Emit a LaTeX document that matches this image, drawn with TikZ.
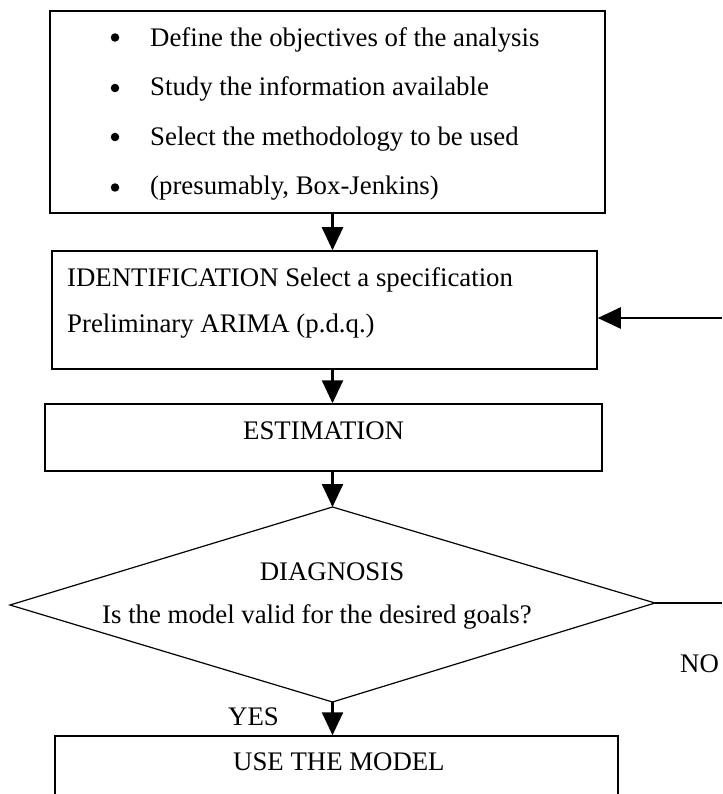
\documentclass[tikz,border=0pt]{standalone}
\usepackage{fontspec}
\setmainfont{Liberation Serif}
\usetikzlibrary{arrows.meta}
\begin{document}
\begin{tikzpicture}[x=1pt,y=-1pt,
  box/.style={draw, line width=1.5pt, rectangle, inner sep=0pt},
  arr/.style={line width=2.5pt, -{Triangle[length=23pt,width=21pt]}},
  lbl/.style={inner sep=0pt, font=\fontsize{26.8}{30}\selectfont},
  dot/.style={circle, fill, inner sep=0pt, minimum size=8.5pt},
]
\clip (0,0) rectangle (722,794);
\fill[white] (0,0) rectangle (722,794);
% top box
\node[box, minimum width=555pt, minimum height=202pt] (top) at (327.5,112) {};
\node[dot] (b1) at (115,37.5) {};
\node[dot] (b2) at (115,88) {};
\node[dot] (b3) at (115,137) {};
\node[dot] (b4) at (115,187.5) {};
\node[lbl, anchor=base west] (t1) at (150,47) {Define the objectives of the analysis};
\node[lbl, anchor=base west] (t2) at (150,96) {Study the information available};
\node[lbl, anchor=base west] (t3) at (150,146) {Select the methodology to be used};
\node[lbl, anchor=base west] (t4) at (150,195) {(presumably, Box-Jenkins)};
% identification box
\node[box, minimum width=545pt, minimum height=118pt] (id) at (324.5,310) {};
\node[lbl, anchor=base west] (i1) at (67,286) {IDENTIFICATION Select a specification};
\node[lbl, anchor=base west] (i2) at (67,332) {Preliminary ARIMA (p.d.q.)};
% estimation box
\node[box, minimum width=557pt, minimum height=67pt] (est) at (323.5,437.5) {};
\node[lbl, anchor=base west] (estl) at (243,439) {ESTIMATION};
% diamond
\coordinate (dT) at (332.5,507);
\coordinate (dB) at (332.5,702);
\coordinate (dL) at (10,605);
\coordinate (dR) at (655,603);
\draw[line width=1.2pt] (dT) -- (dR) -- (dB) -- (dL) -- cycle;
\node[lbl, anchor=base] (dg) at (332,580) {DIAGNOSIS};
\node[lbl, anchor=base west] (dq) at (102,623) {Is the model valid for the desired goals?};
% use box
\node[box, minimum width=563pt, minimum height=120pt] (use) at (336.5,796) {};
\node[lbl, anchor=base west] (usel) at (233,770) {USE THE MODEL};
% labels
\node[lbl, anchor=base west] (yes) at (228,725) {YES};
\node[lbl, anchor=base west] (no) at (680,672) {NO};
% connectors
\draw[arr] (top.south -| dT) -- (id.north -| dT);
\draw[arr] (id.south -| dT) -- (est.north -| dT);
\draw[arr] (est.south -| dT) -- (dT);
\draw[arr] (dB) -- (use.north -| dB);
\coordinate (eR1) at (722,318);
\coordinate (eR2) at (722,603);
\draw[arr] (eR1) -- (eR1 -| id.east);
\draw[line width=2.5pt] (dR) -- (eR2);
\end{tikzpicture}
\end{document}
